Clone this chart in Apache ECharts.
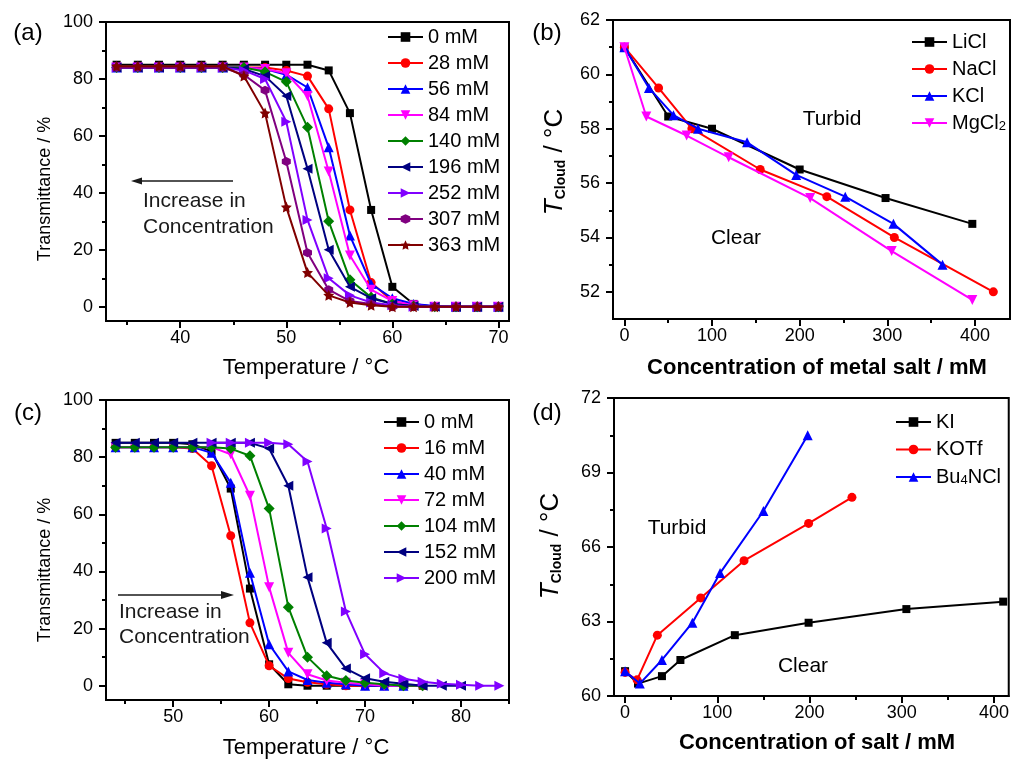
<!DOCTYPE html>
<html>
<head>
<meta charset="utf-8">
<title>Cloud point of polymer solutions</title>
<script src="https://cdn.jsdelivr.net/npm/echarts@6/dist/echarts.min.js"></script>
<style>html,body{margin:0;padding:0;background:#fff;}</style>
</head>
<body>
<div id="main" style="width:1012px;height:760px;"></div>
<script type="text/javascript">
var FONT = '"Liberation Sans", Arial, sans-serif';

// ---- (a) transmittance vs temperature, chloride salt series
var tempA = [34, 36, 38, 40, 42, 44, 46, 48, 50, 52, 54, 56, 58, 60, 62, 64, 66, 68, 70];
var namesA = ['0 mM', '28 mM', '56 mM', '84 mM', '140 mM', '196 mM', '252 mM', '307 mM', '363 mM'];
var transA = [
    [85, 85, 85, 85, 85, 85, 85, 85, 85, 85, 83, 68, 34, 7, 1, 0, 0, 0, 0],
    [84, 84, 84, 84, 84, 84, 84, 84, 83, 81, 69.5, 34, 8.5, 2, 0.5, 0, 0, 0, 0],
    [84, 84, 84, 84, 84, 84, 84, 83.5, 81.5, 77, 56, 25, 8, 3, 1, 0.3, 0, 0, 0],
    [84, 84, 84, 84, 84, 84, 84, 83.5, 82, 74, 47.5, 18, 6, 2, 0.5, 0, 0, 0, 0],
    [84, 84, 84, 84, 84, 84, 84, 82.5, 79, 63, 30, 9.5, 3.3, 1, 0.3, 0, 0, 0, 0],
    [84, 84, 84, 84, 84, 84, 83.5, 81, 74, 48.5, 20, 7, 3, 1, 0.3, 0, 0, 0, 0],
    [84, 84, 84, 84, 84, 84, 83, 80, 65, 30.5, 10, 4, 1.5, 0.5, 0, 0, 0, 0, 0],
    [84, 84, 84, 84, 84, 84, 81.5, 76, 51, 19, 6, 2, 1, 0, 0, 0, 0, 0, 0],
    [84.5, 84.5, 84.5, 84.5, 84.5, 84.5, 81, 68, 35, 12, 4, 1.5, 0.5, 0, 0, 0, 0, 0, 0]
];

// ---- (b) cloud point vs metal salt concentration
var namesB = ['LiCl', 'NaCl', 'KCl', 'MgCl2'];
var concB = [
    [0, 50, 100, 200, 298, 397],
    [0, 39, 77, 155, 231, 308, 421],
    [0, 28, 56, 84, 140, 196, 252, 307, 363],
    [0, 25, 71, 119, 212, 305, 397]
];
var cloudB = [
    [61, 58.45, 58, 56.5, 55.45, 54.5],
    [61, 59.5, 58, 56.5, 55.5, 54, 52],
    [61, 59.5, 58.5, 58, 57.5, 56.3, 55.5, 54.5, 53],
    [61, 58.45, 57.75, 56.95, 55.45, 53.5, 51.7]
];

// ---- (c) transmittance vs temperature, second salt series
var tempC = [44, 46, 48, 50, 52, 54, 56, 58, 60, 62, 64, 66, 68, 70, 72, 74, 76, 78, 80, 82, 84];
var namesC = ['0 mM ', '16 mM', '40 mM', '72 mM', '104 mM', '152 mM', '200 mM'];
var startC = [0, 0, 0, 0, 0, 0, 5];
var transC = [
    [85, 85, 85, 85, 84.5, 82, 69, 34, 7.5, 0.5, 0, 0, 0, 0, 0, 0, 0],
    [83.5, 83.5, 83.5, 83.5, 83, 77, 52.5, 22, 7, 2.5, 1.2, 0.5, 0, 0, 0, 0, 0],
    [83.5, 83.5, 83.5, 83.5, 83.5, 81.5, 71, 39.5, 14.5, 5, 2, 1, 0.5, 0, 0, 0],
    [83.5, 83.5, 83.5, 83.5, 83.5, 83.5, 81, 66.5, 34.5, 11.5, 4, 1.8, 1, 0.5, 0, 0, 0],
    [83.5, 83.5, 83.5, 83.5, 83.5, 83.5, 83, 80.5, 62, 27.5, 10, 3.5, 1.8, 1, 0.5, 0, 0],
    [85, 85, 85, 85, 85, 85, 85, 85, 83, 70, 38, 15, 6, 2.6, 1.4, 0.7, 0, 0, 0],
    [85, 85, 85, 85, 84.5, 78.5, 55, 26, 11, 4.4, 2.4, 1.4, 0.7, 0.3, 0, 0]
];

// ---- (d) cloud point vs salt concentration
var namesD = ['KI', 'KOTf', 'Bu4NCl'];
var concD = [
    [0, 14, 40, 60, 119, 199, 305, 410],
    [0, 13, 35, 82, 129, 199, 246],
    [0, 16, 40, 73, 103, 150, 198]
];
var cloudD = [
    [61, 60.5, 60.8, 61.45, 62.45, 62.95, 63.5, 63.8],
    [60.95, 60.65, 62.45, 63.95, 65.45, 66.95, 68],
    [61, 60.5, 61.45, 62.95, 64.95, 67.45, 70.5]
];

// ticks: labelled (major) and unlabelled (minor)
var majTA = [40, 50, 60, 70], minTA = [35, 45, 55, 65];
var majTC = [50, 60, 70, 80], minTC = [45, 55, 65, 75, 85];
var majTr = [0, 20, 40, 60, 80, 100], minTr = [10, 30, 50, 70, 90];
var majConc = [0, 100, 200, 300, 400], minConc = [50, 150, 250, 350];
var majB = [52, 54, 56, 58, 60, 62], minB = [53, 55, 57, 59, 61];
var majD = [60, 63, 66, 69, 72], minD = [61.5, 64.5, 67.5, 70.5];

var colors = ['#000000', '#ff0000', '#0000ff', '#ff00ff', '#008000', '#000080', '#8000ff', '#800080', '#800000'];
var STAR = 'path://M0,-10L2.9,-4L9.5,-3.1L4.7,1.5L5.9,8.1L0,5L-5.9,8.1L-4.7,1.5L-9.5,-3.1L-2.9,-4Z';
var HEX = 'path://M-8.7,-5L0,-10L8.7,-5L8.7,5L0,10L-8.7,5Z';
var symbols = ['rect', 'circle', 'triangle', 'triangle', 'diamond', 'triangle', 'triangle', HEX, STAR];
var rotates = [0, 0, 0, 180, 0, 90, -90, 0, 0];
var sizes = [8, 9, 10, 10, 11, 10, 10, 9, 11];

var grids = [
    {left: 106, top: 22, width: 403, height: 299},
    {left: 613, top: 20, width: 397, height: 299},
    {left: 106, top: 400, width: 403, height: 300},
    {left: 614, top: 398, width: 396, height: 298}
].map(function (g) {
    return Object.assign({show: true, borderColor: '#000', borderWidth: 2}, g);
});

function axisPair(grid, pos, min, max, majors, minors) {
    var base = {type: 'value', gridIndex: grid, position: pos, min: min, max: max, splitLine: {show: false}};
    var isY = pos === 'left';
    return [
        Object.assign({}, base, {
            axisLine: {show: true, onZero: false, lineStyle: {color: '#000', width: 2}},
            axisTick: {show: true, customValues: majors, length: 7, lineStyle: {color: '#000', width: 2}},
            axisLabel: {customValues: majors, margin: isY ? 13 : 8, color: '#000', fontSize: 18, fontFamily: FONT}
        }),
        Object.assign({}, base, {
            axisLine: {show: false, onZero: false},
            axisTick: {show: true, customValues: minors, length: 4, lineStyle: {color: '#000', width: 2}},
            axisLabel: {show: false}
        })
    ];
}

var xAxes = [].concat(
    axisPair(0, 'bottom', 33, 71, majTA, minTA),
    axisPair(1, 'bottom', -13, 440, majConc, minConc),
    axisPair(2, 'bottom', 43, 85, majTC, minTC),
    axisPair(3, 'bottom', -12, 416, majConc, minConc)
);
var yAxes = [].concat(
    axisPair(0, 'left', -5, 100, majTr, minTr),
    axisPair(1, 'left', 51, 62, majB, minB),
    axisPair(2, 'left', -5, 100, majTr, minTr),
    axisPair(3, 'left', 60, 72, majD, minD)
);

function mkSeries(name, grid, k, pts) {
    return {
        name: name, type: 'line', xAxisIndex: grid * 2, yAxisIndex: grid * 2,
        data: pts,
        symbol: symbols[k], symbolRotate: rotates[k], symbolSize: sizes[k],
        lineStyle: {color: colors[k], width: 2},
        itemStyle: {color: colors[k]},
        z: 3 + k
    };
}

var series = [];
namesA.forEach(function (n, k) {
    series.push(mkSeries(n, 0, k, tempA.map(function (t, i) { return [t, transA[k][i]]; })));
});
namesB.forEach(function (n, k) {
    series.push(mkSeries(n, 1, k, concB[k].map(function (c, i) { return [c, cloudB[k][i]]; })));
});
namesC.forEach(function (n, k) {
    series.push(mkSeries(n, 2, k, transC[k].map(function (v, i) { return [tempC[startC[k] + i], v]; })));
});
namesD.forEach(function (n, k) {
    series.push(mkSeries(n, 3, k, concD[k].map(function (c, i) { return [c, cloudD[k][i]]; })));
});

var legendText = {
    fontSize: 20, fontFamily: FONT, color: '#000', lineHeight: 20,
    rich: {sub: {fontSize: 13, fontFamily: FONT, color: '#000', verticalAlign: 'bottom', lineHeight: 8}}
};
function legendFmt(name) {
    if (name === 'MgCl2') return 'MgCl{sub|2}';
    if (name === 'Bu4NCl') return 'Bu{sub|4}NCl';
    return name;
}
function mkLegend(data, left, top, gap) {
    return {
        data: data, left: left, top: top, orient: 'vertical', padding: 0,
        itemWidth: 35, itemHeight: 12, itemGap: gap,
        selectedMode: false, formatter: legendFmt, textStyle: legendText
    };
}

function txt(x, y, s, size, opt) {
    return {
        type: 'text', x: x, y: y, rotation: (opt && opt.rot) || 0, z: 50,
        style: Object.assign({
            text: s, fontSize: size, fontFamily: FONT, fill: (opt && opt.fill) || '#000',
            align: (opt && opt.align) || 'center', verticalAlign: 'middle'
        }, (opt && opt.style) || {})
    };
}
var tCloud = {
    text: '{t|T}{s|Cloud}{n| / °C}',
    rich: {
        t: {fontSize: 26, fontStyle: 'italic', fontFamily: FONT, fill: '#000', lineHeight: 26},
        s: {fontSize: 14, fontWeight: 'bold', fontFamily: FONT, fill: '#000', verticalAlign: 'bottom', lineHeight: 10},
        n: {fontSize: 26, fontFamily: FONT, fill: '#000', lineHeight: 26}
    }
};
var GRAY = '#1a1a1a';

var graphics = [
    txt(28, 33, '(a)', 24), txt(547, 33, '(b)', 24),
    txt(28, 413, '(c)', 24), txt(547, 413, '(d)', 24),
    txt(306, 368, 'Temperature / °C', 22),
    txt(306, 748, 'Temperature / °C', 22),
    txt(817, 368, 'Concentration of metal salt / mM', 22, {style: {fontWeight: 'bold'}}),
    txt(817, 743, 'Concentration of salt / mM', 22, {style: {fontWeight: 'bold'}}),
    txt(45, 189, 'Transmittance / %', 18, {rot: Math.PI / 2}),
    txt(45, 570, 'Transmittance / %', 18, {rot: Math.PI / 2}),
    txt(555, 162, '', 26, {rot: Math.PI / 2, style: tCloud}),
    txt(551, 546, '', 26, {rot: Math.PI / 2, style: tCloud}),
    txt(832, 119, 'Turbid', 21), txt(736, 238, 'Clear', 21),
    txt(677, 528, 'Turbid', 21), txt(803, 666, 'Clear', 21),
    txt(143, 201, 'Increase in', 21, {align: 'left', fill: GRAY}),
    txt(143, 227, 'Concentration', 21, {align: 'left', fill: GRAY}),
    txt(119, 612, 'Increase in', 21, {align: 'left', fill: GRAY}),
    txt(119, 637, 'Concentration', 21, {align: 'left', fill: GRAY}),
    {type: 'line', z: 50, shape: {x1: 233, y1: 181, x2: 138, y2: 181}, style: {stroke: GRAY, lineWidth: 1.5}},
    {type: 'polygon', z: 50, shape: {points: [[131, 181], [142, 177.5], [142, 184.5]]}, style: {fill: GRAY}},
    {type: 'line', z: 50, shape: {x1: 118, y1: 595, x2: 224, y2: 595}, style: {stroke: GRAY, lineWidth: 1.5}},
    {type: 'polygon', z: 50, shape: {points: [[234, 595], [221, 591], [221, 599]]}, style: {fill: GRAY}}
];

var myChart = echarts.init(document.getElementById('main'), null, {renderer: 'canvas'});
var option = {
    animation: false,
    backgroundColor: '#fff',
    textStyle: {fontFamily: FONT},
    grid: grids,
    xAxis: xAxes,
    yAxis: yAxes,
    legend: [
        mkLegend(namesA, 387, 27, 6),
        mkLegend(namesB, 911, 32, 7),
        mkLegend(namesC, 383, 412, 6),
        mkLegend(namesD, 895, 412, 7.5)
    ],
    graphic: graphics,
    series: series
};
myChart.setOption(option);
</script>
</body>
</html>
